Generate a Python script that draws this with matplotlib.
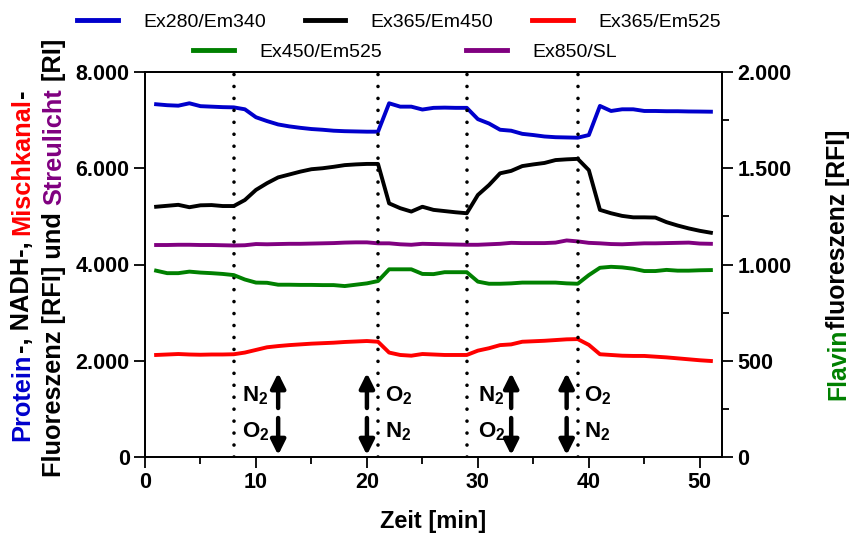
import numpy as np
import matplotlib
matplotlib.use("Agg")
import matplotlib.pyplot as plt
from matplotlib.ticker import FuncFormatter, MultipleLocator

plt.rcParams['font.family'] = ['Liberation Sans', 'DejaVu Sans']
plt.rcParams['font.weight'] = 'bold'
plt.rcParams['axes.labelweight'] = 'bold'
plt.rcParams['mathtext.fontset'] = 'custom'
plt.rcParams['mathtext.rm'] = 'Liberation Sans:bold'
plt.rcParams['mathtext.bf'] = 'Liberation Sans:bold'
plt.rcParams['mathtext.it'] = 'Liberation Sans:bold'

# Zeit in Minuten
zeit = np.arange(1, 52)

# Ex280/Em340 (Protein)
protein = [7330, 7310, 7300, 7350, 7290, 7280, 7270, 7265, 7225, 7060,
           6980, 6910, 6870, 6840, 6815, 6800, 6780, 6770, 6765, 6760,
           6760, 7350, 7280, 7280, 7220, 7255, 7260, 7255, 7255, 7020,
           6930, 6800, 6780, 6715, 6690, 6660, 6645, 6640, 6635, 6690,
           7295, 7190, 7225, 7225, 7190, 7190, 7185, 7185, 7180, 7178, 7175]
# Ex365/Em450 (NADH)
nadh = [5200, 5220, 5240, 5190, 5230, 5235, 5215, 5215, 5340, 5550,
        5690, 5810, 5870, 5930, 5980, 6000, 6030, 6065, 6080, 6090,
        6090, 5270, 5170, 5100, 5200, 5135, 5110, 5085, 5065, 5445,
        5650, 5895, 5945, 6045, 6080, 6110, 6170, 6185, 6195, 5960,
        5135, 5065, 5010, 4980, 4980, 4975, 4880, 4810, 4750, 4700, 4660]
# Ex365/Em525 (Mischkanal)
misch = [2120, 2130, 2140, 2130, 2125, 2130, 2130, 2135, 2170, 2225,
         2280, 2305, 2325, 2340, 2355, 2365, 2375, 2390, 2400, 2410,
         2395, 2170, 2120, 2105, 2140, 2130, 2120, 2120, 2120, 2210,
         2260, 2325, 2340, 2395, 2405, 2415, 2430, 2445, 2450, 2330,
         2135, 2120, 2105, 2100, 2100, 2085, 2070, 2050, 2030, 2010, 1995]
# Ex450/Em525 (Flavin, rechte Achse)
flavin = [968, 955, 955, 963, 958, 955, 951, 945, 922, 906,
          905, 895, 895, 894, 894, 893, 893, 888, 895, 902,
          914, 975, 975, 975, 951, 950, 960, 960, 960, 911,
          900, 900, 902, 906, 906, 906, 906, 902, 900, 945,
          983, 988, 985, 978, 966, 966, 972, 968, 968, 970, 971]
# Ex850/SL (Streulicht)
streu = [4405, 4405, 4410, 4410, 4405, 4405, 4400, 4395, 4400, 4425,
         4420, 4425, 4430, 4430, 4435, 4440, 4445, 4455, 4460, 4460,
         4440, 4440, 4420, 4410, 4430, 4425, 4420, 4415, 4410, 4410,
         4420, 4430, 4450, 4445, 4445, 4445, 4455, 4500, 4480, 4450,
         4440, 4425, 4420, 4430, 4440, 4440, 4445, 4450, 4455, 4435, 4430]

# Begasungswechsel
wechsel = [8, 21, 29, 39]
pfeil_x = [12, 20, 33, 38]
gas_oben = ['N', 'O', 'N', 'O']
gas_unten = ['O', 'N', 'O', 'N']
text_x = [8.75, 21.6, 30.0, 39.6]

blau = '#0000CC'
rot = '#FF0000'
gruen = '#008000'
lila = '#800080'

fig = plt.figure(figsize=(8.5, 5.38), dpi=100)
ax = fig.add_axes([145 / 850, 1 - 457 / 538, 577 / 850, 385 / 538])
ax2 = ax.twinx()

lw = 2.8
l1, = ax.plot(zeit, protein, color=blau, lw=lw, label='Ex280/Em340')
l2, = ax.plot(zeit, nadh, color='black', lw=lw, label='Ex365/Em450')
l3, = ax.plot(zeit, misch, color=rot, lw=lw, label='Ex365/Em525')
l5, = ax.plot(zeit, streu, color=lila, lw=lw, label='Ex850/SL')
l4, = ax2.plot(zeit, flavin, color=gruen, lw=lw, label='Ex450/Em525')

for w in wechsel:
    ax.axvline(w, color='black', lw=2.6, ls=(0, (0.01, 3.3)),
               dash_capstyle='round')

ax.set_xlim(0, 52)
ax.set_ylim(0, 8000)
ax2.set_ylim(0, 2000)

fmt = FuncFormatter(lambda v, p: f"{int(round(v)):,}".replace(",", "."))
ax.yaxis.set_major_locator(MultipleLocator(2000))
ax.yaxis.set_major_formatter(fmt)
ax2.yaxis.set_major_locator(MultipleLocator(500))
ax2.yaxis.set_minor_locator(MultipleLocator(250))
ax2.yaxis.set_major_formatter(fmt)
ax.xaxis.set_major_locator(MultipleLocator(10))
ax.xaxis.set_minor_locator(MultipleLocator(5))

for a in (ax, ax2):
    a.tick_params(which='major', length=8, width=1.3, labelsize=15.5, pad=3)
    a.tick_params(which='minor', length=5, width=1.3)
    for s in a.spines.values():
        s.set_linewidth(1.3)
ax.tick_params(axis='y', which='both', right=False)

ax.set_xlabel('Zeit [min]', fontsize=17, fontweight='bold', labelpad=12)

# Pfeile und Gasbeschriftung
for px, tx, go, gu in zip(pfeil_x, text_x, gas_oben, gas_unten):
    ax.annotate('', xy=(px, 1745), xytext=(px, 1018),
                arrowprops=dict(arrowstyle='-|>', lw=3.2, color='black',
                                mutation_scale=22, shrinkA=0, shrinkB=0))
    ax.annotate('', xy=(px, 40), xytext=(px, 810),
                arrowprops=dict(arrowstyle='-|>', lw=3.2, color='black',
                                mutation_scale=22, shrinkA=0, shrinkB=0))
    ax.text(tx, 1268, f'${go}_2$', fontsize=16, ha='left', va='center')
    ax.text(tx, 520, f'${gu}_2$', fontsize=16, ha='left', va='center')

# Legende in zwei Zeilen
leg_kw = dict(frameon=False, handlelength=2.1, handletextpad=1.3,
              prop={'weight': 'normal', 'size': 14}, loc='center')
leg1 = fig.legend([l1, l2, l3], [l1.get_label(), l2.get_label(), l3.get_label()],
                  ncol=3, columnspacing=2.0,
                  bbox_to_anchor=(399 / 850, 1 - 22 / 538), **leg_kw)
leg2 = fig.legend([l4, l5], [l4.get_label(), l5.get_label()],
                  ncol=2, columnspacing=4.3,
                  bbox_to_anchor=(405 / 850, 1 - 52 / 538), **leg_kw)
for leg in (leg1, leg2):
    for h in leg.legend_handles:
        h.set_linewidth(3.5)

# Mehrfarbige, gedrehte Achsenbeschriftungen
renderer = fig.canvas.get_renderer()


def laenge(s, size):
    t = fig.text(0, 0, s, fontsize=size, rotation=90)
    h = t.get_window_extent(renderer).height
    t.remove()
    return h


def bunte_zeile(teile, x_px, yc_px, size=16):
    ganz = ''.join(s for s, c in teile)
    y0 = (538 - yc_px) - laenge(ganz, size) / 2
    prefix = ''
    for s, c in teile:
        start = laenge(prefix + s, size) - laenge(s, size)
        fig.text(x_px / 850, (y0 + start) / 538, s, color=c, fontsize=size,
                 rotation=90, ha='center', va='bottom')
        prefix += s


bunte_zeile([('Protein', blau), ('-, NADH-, ', 'black'),
             ('Mischkanal', rot), ('-', 'black')], 22, 265, size=18.3)
bunte_zeile([('Fluoreszenz [RFI] und ', 'black'), ('Streulicht', lila),
             (' [RI]', 'black')], 54, 258, size=18.3)
bunte_zeile([('Flavin', gruen), ('fluoreszenz [RFI]', 'black')], 838, 265,
            size=17.8)

fig.savefig('out.png', dpi=100)
